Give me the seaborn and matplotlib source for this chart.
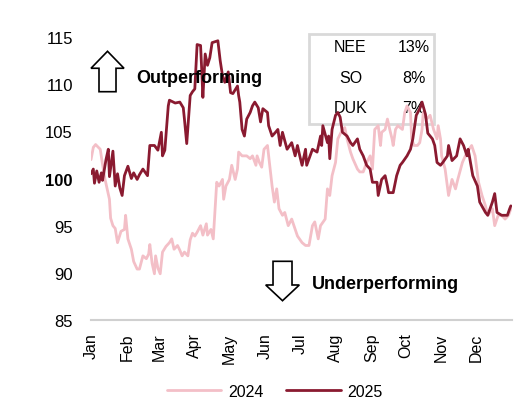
import numpy as np
import pandas as pd
import matplotlib
matplotlib.use("Agg")
import matplotlib.pyplot as plt
from matplotlib.patches import FancyArrow, Rectangle
import seaborn as sns

# ---- data (day of year, index value) ----
days_2025 = [0, 2, 3, 5, 7, 9, 10, 13, 15, 16, 19, 21, 23, 25, 27, 29, 32, 35, 37, 40,
             42, 45, 49, 51, 55, 58, 61, 62, 64, 67, 68, 73, 77, 80, 81, 83, 86, 88, 90, 92,
             95, 96, 97, 99, 101, 103, 105, 110, 112, 114, 116, 119, 121, 123, 127, 128, 129, 131, 133, 135,
             138, 140, 142, 145, 147, 149, 153, 154, 157, 160, 162, 164, 166, 170, 174, 177, 179, 181, 183, 186,
             187, 190, 192, 196, 199, 200, 201, 205, 206, 207, 209, 212, 214, 216, 218, 222, 225, 227, 231, 233,
             236, 239, 242, 244, 248, 249, 252, 255, 257, 258, 262, 265, 268, 270, 274, 277, 279, 282, 285, 287,
             290, 292, 296, 298, 300, 303, 305, 309, 310, 313, 317, 320, 323, 326, 327, 331, 335, 337, 342, 344,
             348, 350, 352, 356, 361, 363, 364]
vals_2025 = [100.5, 101.0, 99.5, 100.8, 99.6, 100.6, 99.8, 102.0, 103.1, 100.2, 102.9, 99.2, 100.5, 99.0, 98.2, 100.3, 101.3, 100.0, 100.6, 99.9,
             100.4, 101.0, 100.3, 103.5, 103.5, 103.0, 104.9, 102.4, 103.0, 107.7, 108.3, 108.0, 108.1, 107.5, 106.3, 103.7, 108.8, 109.2, 109.5, 114.2,
             114.1, 111.5, 108.6, 113.2, 112.0, 112.8, 114.4, 114.6, 112.5, 110.9, 110.2, 111.3, 109.1, 109.0, 109.8, 108.8, 108.1, 105.2, 104.5, 106.3,
             107.0, 107.7, 108.1, 107.5, 106.0, 107.4, 107.0, 105.6, 104.5, 104.9, 105.2, 103.5, 104.9, 103.1, 103.8, 102.4, 103.5, 102.4, 101.4, 103.1,
             101.4, 102.4, 103.1, 102.8, 104.5, 103.5, 105.6, 103.8, 104.5, 102.1, 105.2, 106.7, 107.0, 106.5, 104.9, 104.5, 103.8, 103.5, 104.2, 103.1,
             102.4, 101.4, 101.0, 99.6, 99.6, 98.2, 99.9, 100.3, 99.2, 98.5, 98.5, 100.3, 101.4, 101.7, 102.4, 103.1, 104.2, 106.7, 107.4, 108.1,
             106.8, 104.8, 104.2, 103.5, 101.7, 101.4, 101.7, 102.4, 103.5, 101.9, 102.4, 104.2, 103.5, 102.4, 103.1, 100.3, 99.2, 97.5, 96.4, 96.1,
             97.5, 98.4, 96.4, 96.1, 96.1, 96.8, 97.1]

days_2024 = [0, 2, 4, 8, 10, 12, 14, 16, 17, 19, 21, 23, 26, 29, 30, 32, 35, 37, 40, 42,
             45, 48, 50, 51, 53, 55, 56, 58, 60, 62, 65, 68, 70, 72, 75, 77, 79, 81, 84, 86,
             88, 90, 92, 95, 97, 100, 101, 104, 106, 108, 109, 111, 114, 115, 117, 120, 122, 125, 127, 128,
             131, 135, 138, 140, 143, 144, 146, 148, 150, 153, 154, 157, 159, 161, 163, 166, 168, 171, 174, 177,
             179, 183, 186, 189, 192, 194, 197, 199, 203, 205, 207, 209, 212, 214, 218, 220, 222, 225, 227, 231,
             233, 236, 239, 242, 244, 245, 246, 249, 251, 252, 255, 257, 259, 261, 262, 264, 266, 270, 272, 274,
             277, 278, 280, 283, 285, 287, 288, 291, 294, 297, 300, 301, 303, 304, 307, 310, 313, 316, 318, 322,
             326, 330, 333, 336, 339, 342, 344, 348, 350, 353, 356, 359, 362, 364]
vals_2024 = [102.0, 103.3, 103.6, 103.1, 101.5, 100.0, 98.9, 97.8, 95.8, 95.0, 94.7, 93.2, 94.4, 94.6, 96.1, 93.6, 92.5, 91.2, 90.4, 90.4,
             91.8, 91.5, 92.0, 93.0, 91.0, 89.9, 91.8, 90.5, 89.9, 92.2, 92.8, 93.2, 93.6, 92.5, 92.9, 92.4, 91.8, 92.2, 91.8, 93.5,
             94.2, 93.9, 94.3, 95.0, 94.0, 95.2, 94.0, 94.6, 93.6, 97.5, 99.6, 99.2, 99.9, 97.8, 99.2, 99.9, 101.4, 99.9, 101.0, 102.8,
             102.4, 102.4, 102.1, 102.4, 101.4, 102.4, 101.7, 101.2, 103.1, 103.5, 102.4, 99.2, 97.5, 98.9, 96.8, 96.1, 96.4, 95.0, 95.7, 94.6,
             93.9, 93.2, 92.9, 92.9, 95.0, 95.4, 93.6, 95.0, 95.7, 98.9, 98.2, 100.3, 101.7, 104.2, 105.2, 105.4, 104.2, 102.8, 102.1, 101.0,
             100.7, 100.7, 101.7, 102.4, 101.0, 103.1, 105.2, 105.6, 103.5, 104.9, 105.2, 106.3, 105.2, 104.2, 103.5, 105.2, 105.6, 105.2, 107.0, 107.7,
             107.0, 104.2, 103.5, 103.5, 103.8, 105.2, 107.0, 106.3, 106.7, 105.2, 104.2, 105.6, 104.2, 102.4, 101.0, 98.2, 99.9, 98.9, 99.9, 101.7,
             102.8, 103.5, 102.4, 99.6, 98.2, 97.1, 96.1, 96.8, 95.0, 96.1, 96.1, 95.7, 96.1, 96.8]

month_labels = ["Jan", "Feb", "Mar", "Apr", "May", "Jun", "Jul", "Aug", "Sep", "Oct", "Nov", "Dec", ""]
y_ticks = [85, 90, 95, 100, 105, 110, 115]
weights_names = ["NEE", "SO", "DUK"]
weights_vals = ["13%", "8%", "7%"]

# ---- build frame ----
df = pd.concat([
    pd.DataFrame({"day": days_2024, "value": vals_2024, "year": "2024"}),
    pd.DataFrame({"day": days_2025, "value": vals_2025, "year": "2025"}),
], ignore_index=True)

sns.set_theme(style="white")
plt.rcParams["font.family"] = ["Liberation Sans", "DejaVu Sans"]
plt.rcParams["text.color"] = "black"
plt.rcParams["xtick.labelcolor"] = "black"
plt.rcParams["ytick.labelcolor"] = "black"

fig = plt.figure(figsize=(5.18, 4.06), dpi=100)
ax = fig.add_axes([91 / 518, 1 - 321 / 406, 421 / 518, 283 / 406])

pal = {"2024": "#F3BFC7", "2025": "#8A1A30"}
sns.lineplot(data=df, x="day", y="value", hue="year", palette=pal,
             linewidth=2.0, ax=ax, estimator=None, sort=True)

ax.set_xlim(0, 365)
ax.set_ylim(85, 115)

month_starts = (pd.date_range("2025-01-01", periods=13, freq="MS") - pd.Timestamp("2025-01-01")).days
ax.set_xticks(month_starts)
ax.set_xticklabels(month_labels, rotation=90, fontsize=11.5, color="black")
ax.set_yticks(y_ticks)
ax.set_yticklabels([str(v) for v in y_ticks], fontsize=12, color="black")
for lbl in ax.get_yticklabels():
    if lbl.get_text() == "100":
        lbl.set_fontweight("bold")

ax.set_xlabel("")
ax.set_ylabel("")
for s in ["top", "right", "left"]:
    ax.spines[s].set_visible(False)
ax.spines["bottom"].set_color("#D0D0D0")
ax.spines["bottom"].set_linewidth(1.5)
ax.tick_params(axis="x", direction="out", length=5, width=1.2, color="#D0D0D0", pad=4)
ax.tick_params(axis="y", length=0, pad=13)
ax.grid(False)

# weights box
ax.add_patch(Rectangle((0.517, 0.6936), 0.2985, 0.316, transform=ax.transAxes,
                       fill=False, ec="#D9D9D9", lw=2.0, clip_on=False, zorder=1))
for i, (n, v) in enumerate(zip(weights_names, weights_vals)):
    yb = [0.9495, 0.840, 0.736][i]
    ax.text(0.6165, yb, n, transform=ax.transAxes, ha="center", va="baseline", fontsize=11.5,
            color="black", zorder=1)
    ax.text(0.766, yb, v, transform=ax.transAxes, ha="center", va="baseline", fontsize=11.5,
            color="black", zorder=1)

# arrows and annotations
ax.add_patch(FancyArrow(0.0392, 0.8067, 0, 0.1428, width=0.0404, head_width=0.0784,
                        head_length=0.060, length_includes_head=True, transform=ax.transAxes,
                        fc="white", ec="black", lw=1.2, clip_on=False, zorder=5))
ax.add_patch(FancyArrow(0.4549, 0.2074, 0, -0.1392, width=0.0451, head_width=0.0798,
                        head_length=0.0555, length_includes_head=True, transform=ax.transAxes,
                        fc="white", ec="black", lw=1.2, clip_on=False, zorder=5))
ax.text(0.1069, 0.841, "Outperforming", transform=ax.transAxes, ha="left", va="baseline",
        fontsize=13, fontweight="bold", color="black", zorder=6)
ax.text(0.525, 0.112, "Underperforming", transform=ax.transAxes, ha="left", va="baseline",
        fontsize=13, fontweight="bold", color="black", zorder=6)

# legend
handles, labels = ax.get_legend_handles_labels()
ax.get_legend().remove()
leg = fig.legend(handles, labels, loc="lower center", bbox_to_anchor=(275 / 518, -0.012), ncol=2,
                 frameon=False, fontsize=11.5, handlelength=3.4, handletextpad=0.45, columnspacing=1.4,
                 borderpad=0.2)
for t in leg.get_texts():
    t.set_color("black")

fig.savefig("out.png", dpi=100)
